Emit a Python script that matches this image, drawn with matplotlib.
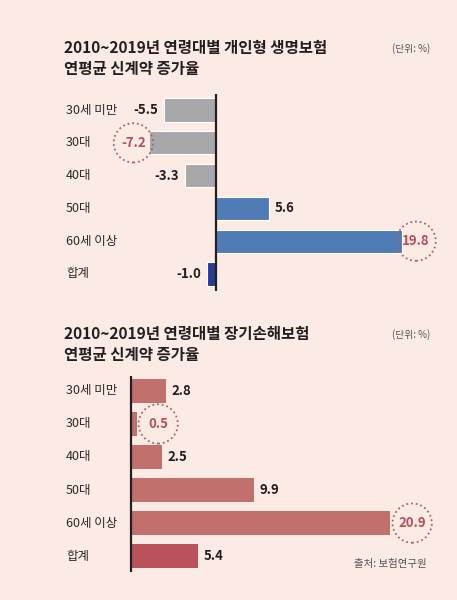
import matplotlib
matplotlib.use("Agg")
import matplotlib.pyplot as plt
from matplotlib.transforms import offset_copy, blended_transform_factory

plt.rcParams['font.family'] = ['Noto Sans CJK KR', 'DejaVu Sans']

# data
categories = ["30세 미만", "30대", "40대", "50대", "60세 이상", "합계"]
life_values = [-5.5, -7.2, -3.3, 5.6, 19.8, -1.0]
life_colors = ["#a8a8ab", "#a8a8ab", "#a8a8ab", "#4f7cb6", "#4f7cb6", "#263c96"]
life_highlight = [1, 4]
life_title = "2010~2019년 연령대별 개인형 생명보험\n연평균 신계약 증가율"

damage_values = [2.8, 0.5, 2.5, 9.9, 20.9, 5.4]
damage_colors = ["#c2706d", "#c2706d", "#c2706d", "#c2706d", "#c2706d", "#b9525a"]
damage_highlight = [1, 4]
damage_title = "2010~2019년 연령대별 장기손해보험\n연평균 신계약 증가율"

unit_text = "(단위: %)"
source_text = "출처: 보험연구원"

bg = "#fcebe4"
dark = "#231f20"
hl = "#b4505c"

W, H = 457, 600
fig = plt.figure(figsize=(W / 100, H / 100), dpi=100)
fig.patch.set_facecolor(bg)


def px_axes(left, top, right, bottom):
    return fig.add_axes([left / W, 1 - bottom / H, (right - left) / W, (bottom - top) / H])


def draw(ax, values, colors, highlight, xlim, ylim, edge, hl_dx):
    ax.set_facecolor("none")
    y = range(len(values))
    ax.barh(y, values, height=0.71, color=colors, edgecolor=edge, linewidth=0.8, zorder=2)
    ax.axvline(0, color=dark, lw=1.6, zorder=3)
    ax.set_xlim(*xlim)
    ax.set_ylim(*ylim)
    ax.axis("off")
    lab_tr = blended_transform_factory(fig.transFigure, ax.transData)
    for i, (c, v) in enumerate(zip(categories, values)):
        ax.text(66 / W, i, c, transform=lab_tr, ha="left", va="center",
                fontsize=9, color="#2a2a2a")
        if i in highlight:
            dx = hl_dx[i]
            tr = offset_copy(ax.transData, fig, x=dx * 0.72, y=0, units="points")
            ax.text(v, i, f"{v:.1f}", transform=tr, ha="center", va="center",
                    fontsize=9.5, fontweight="bold", color=hl, zorder=5)
            ax.scatter([v], [i], s=800, facecolors="none", edgecolors="#a5646c",
                       linewidths=1.3, linestyle=(0, (1, 1.6)), transform=tr,
                       zorder=4, clip_on=False)
        else:
            if v < 0:
                ax.annotate(f"{v:.1f}", (v, i), xytext=(-4, 0), textcoords="offset points",
                            ha="right", va="center", fontsize=9.5, fontweight="bold", color=dark)
            else:
                ax.annotate(f"{v:.1f}", (v, i), xytext=(4, 0), textcoords="offset points",
                            ha="left", va="center", fontsize=9.5, fontweight="bold", color=dark)


# top chart: zero at x=216, 9.4 px per unit
ax1 = px_axes(150, 94, 440, 291)
draw(ax1, life_values, life_colors, life_highlight,
     ((150 - 216) / 9.4, (440 - 216) / 9.4), (5.52, -0.49), "white",
     {1: -15, 4: 14})

# bottom chart: zero at x=131, 12.4 px per unit
ax2 = px_axes(100, 376, 440, 572)
draw(ax2, damage_values, damage_colors, damage_highlight,
     ((100 - 131) / 12.4, (440 - 131) / 12.4), (5.48, -0.45), "none",
     {1: 21, 4: 22})

# titles
fig.text(64 / W, 1 - 40 / H, life_title, ha="left", va="top", fontsize=11.2,
         fontweight="bold", color=dark, linespacing=1.35)
fig.text(64 / W, 1 - 326 / H, damage_title, ha="left", va="top", fontsize=11.2,
         fontweight="bold", color=dark, linespacing=1.35)
fig.text(430 / W, 1 - 49 / H, unit_text, ha="right", va="center", fontsize=7, color="#555555")
fig.text(430 / W, 1 - 335 / H, unit_text, ha="right", va="center", fontsize=7, color="#555555")
fig.text(427 / W, 1 - 564 / H, source_text, ha="right", va="center", fontsize=7.5, color="#555555")

fig.savefig("out.png", dpi=100, facecolor=bg)
